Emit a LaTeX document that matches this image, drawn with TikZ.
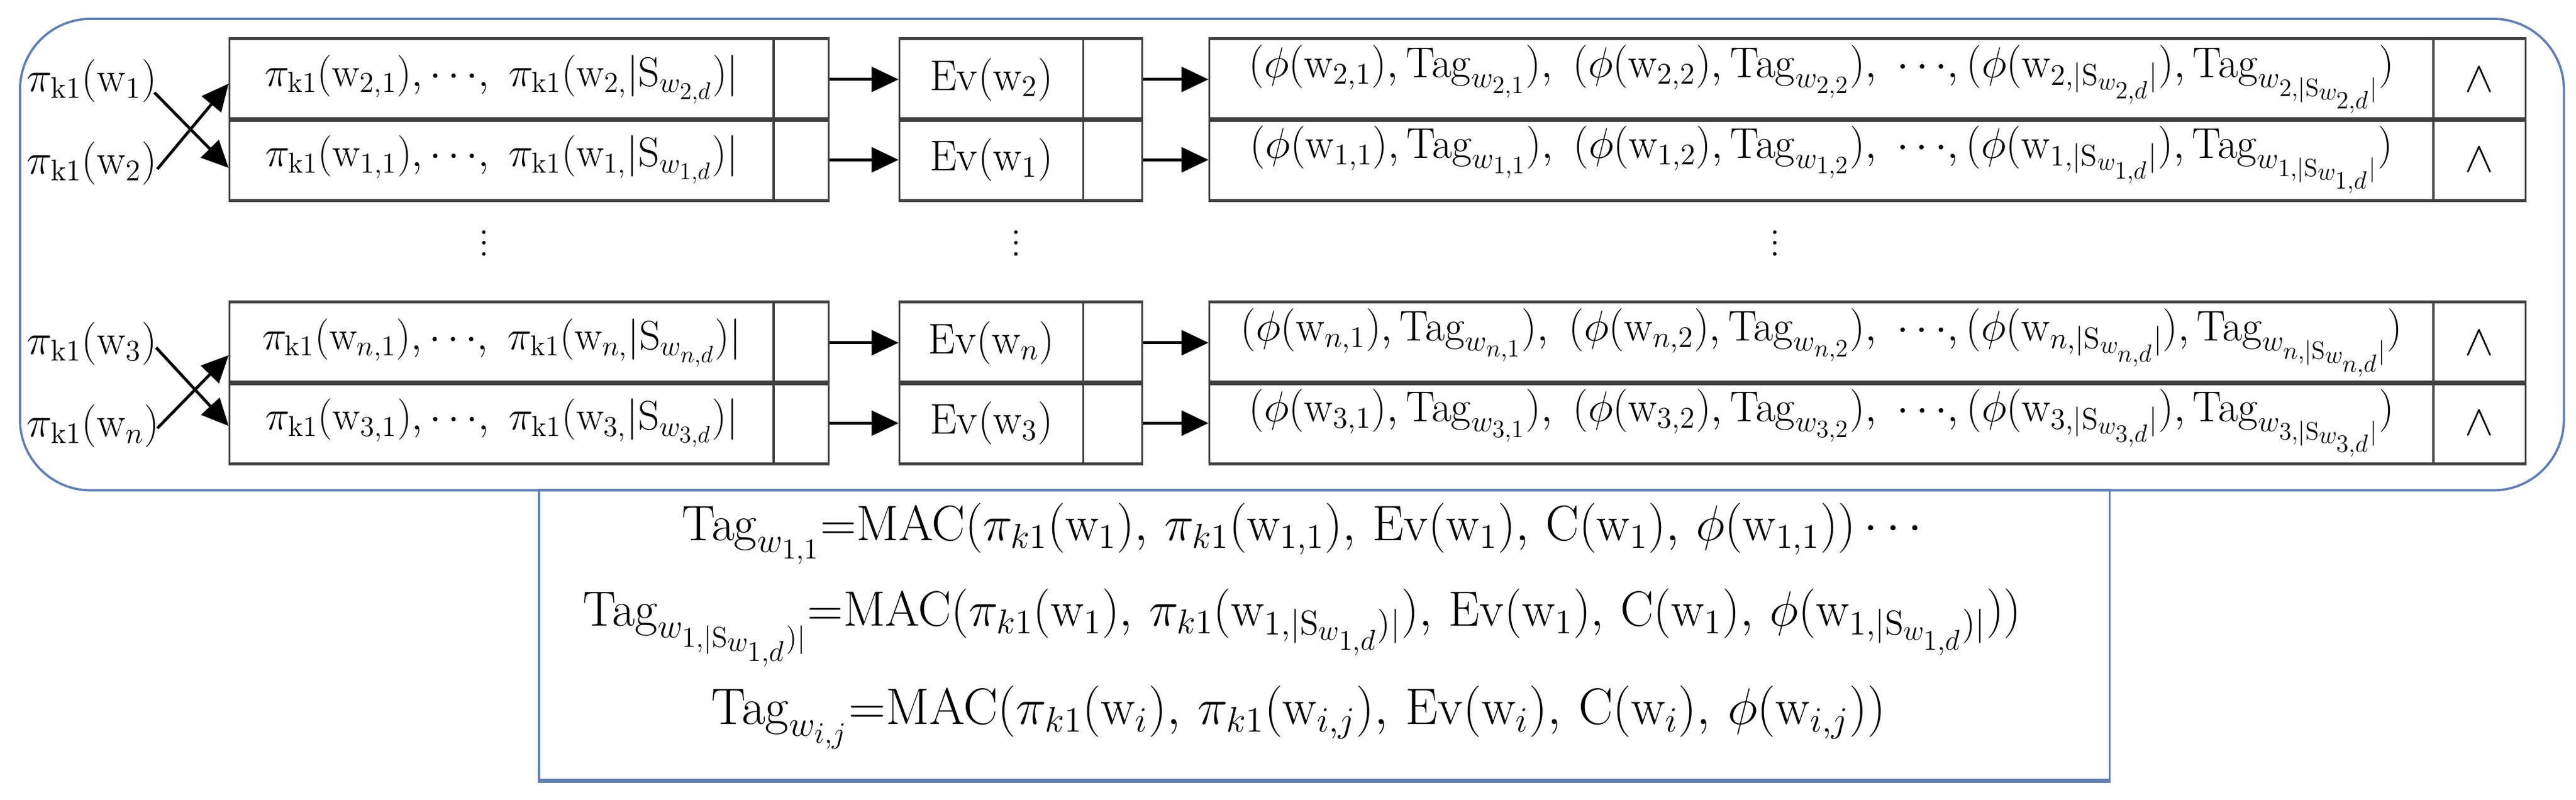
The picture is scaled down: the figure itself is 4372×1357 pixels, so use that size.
\documentclass[tikz,border=0pt]{standalone}
\usepackage{amsmath}
\usepackage{graphicx}
\usetikzlibrary{arrows.meta,calc}
\definecolor{frameblue}{HTML}{5F7FB6}
\definecolor{gridgray}{HTML}{404040}
\newcommand{\pk}{\pi_{\mathrm{k1}}}
\newcommand{\pki}{\pi_{k1}}
\newcommand{\rw}{\mathrm{w}}
\newcommand{\Tg}{\mathrm{Tag}}
\newcommand{\cA}[2]{\resizebox{#1}{!}{#2}\hspace{0.29cm}}
\newcommand{\cC}[2]{\raisebox{0.1cm}{\resizebox{#1}{!}{#2}}\hspace{0.4cm}}
\newcommand{\vdts}{\vbox{\baselineskip5.3pt \lineskiplimit0pt \hbox{.}\hbox{.}\hbox{.}}}
\begin{document}
\begin{tikzpicture}[x=0.01cm, y=-0.01cm,
  cell/.style={draw=gridgray, line width=0.85pt, rectangle, inner sep=0pt, anchor=north west,
    minimum height=1.365cm, font=\fontsize{20.74}{25}\selectfont},
  hline/.style={draw=gridgray, line width=1.3pt},
  lbl/.style={inner sep=0pt, font=\fontsize{20.74}{25}\selectfont},
  ftext/.style={inner sep=0pt, font=\fontsize{20.74}{25}\selectfont},
  arr/.style={-{Triangle[length=13pt,width=12pt]}, line width=1.4pt, black},
  frame/.style={draw=frameblue, line width=1.1pt, inner sep=0pt, anchor=north west}]
\useasboundingbox (0,0) rectangle (4372,1357);

% outer rounded frame
\node[frame, rounded corners=1.2cm, minimum width=43.15cm, minimum height=8cm] (outer) at (32,30) {};
% formula box
\node[frame, minimum width=26.64cm, minimum height=4.92cm] (formbox) at (913,830) {};
\draw[frameblue, line width=1.7pt] (formbox.south west) -- (formbox.south east);

% ---------- rows ----------
% #1 name, #2 top y, #3 col1 text, #4 Ev text, #5 col3 text, #6 col1 width, #7 col3 width
\newcommand{\tablerow}[7]{%
  \node[cell, minimum width=9.23cm] (p#1) at (388,#2) {\cA{#6}{#3}};
  \node[cell, minimum width=0.94cm] (q#1) at (1311,#2) {};
  \node[cell, minimum width=3.12cm] (e#1) at (1525,#2) {#4};
  \node[cell, minimum width=1cm] (f#1) at (1837,#2) {};
  \node[cell, minimum width=20.77cm] (t#1) at (2051,#2) {\cC{#7}{#5}};
  \node[cell, minimum width=1.57cm] (u#1) at (4128,#2) {$\wedge$};
  \draw[hline] (p#1.north west) -- (q#1.north east) (p#1.south west) -- (q#1.south east);
  \draw[hline] (e#1.north west) -- (f#1.north east) (e#1.south west) -- (f#1.south east);
  \draw[hline] (t#1.north west) -- (u#1.north east) (t#1.south west) -- (u#1.south east);
  \draw[arr] (q#1) -- (e#1);
  \draw[arr] (f#1) -- (t#1);
}
\tablerow{1}{65}{$\pk(\rw_{2,1}),{\cdots},\ \pk(\rw_{2,}|\mathrm{S}_{w_{2,d}})|$}{$\mathrm{Ev}(\rw_2)$}
  {$(\phi(\rw_{2,1}),\Tg_{w_{2,1}}),\ (\phi(\rw_{2,2}),\Tg_{w_{2,2}}),\ {\cdots},(\phi(\rw_{2,|\mathrm{S}_{w_{2,d}}|}),\Tg_{w_{2,|\mathrm{S}_{w_{2,d}}|}})$}{8.04cm}{19.43cm}
\tablerow{2}{201.5}{$\pk(\rw_{1,1}),{\cdots},\ \pk(\rw_{1,}|\mathrm{S}_{w_{1,d}})|$}{$\mathrm{Ev}(\rw_1)$}
  {$(\phi(\rw_{1,1}),\Tg_{w_{1,1}}),\ (\phi(\rw_{1,2}),\Tg_{w_{1,2}}),\ {\cdots},(\phi(\rw_{1,|\mathrm{S}_{w_{1,d}}|}),\Tg_{w_{1,|\mathrm{S}_{w_{1,d}}|}})$}{8.02cm}{19.38cm}
\tablerow{3}{512}{$\pk(\rw_{n,1}),{\cdots},\ \pk(\rw_{n,}|\mathrm{S}_{w_{n,d}})|$}{$\mathrm{Ev}(\rw_n)$}
  {$(\phi(\rw_{n,1}),\Tg_{w_{n,1}}),\ (\phi(\rw_{n,2}),\Tg_{w_{n,2}}),\ {\cdots},(\phi(\rw_{n,|\mathrm{S}_{w_{n,d}}|}),\Tg_{w_{n,|\mathrm{S}_{w_{n,d}}|}})$}{8.12cm}{19.71cm}
\tablerow{4}{648.5}{$\pk(\rw_{3,1}),{\cdots},\ \pk(\rw_{3,}|\mathrm{S}_{w_{3,d}})|$}{$\mathrm{Ev}(\rw_3)$}
  {$(\phi(\rw_{3,1}),\Tg_{w_{3,1}}),\ (\phi(\rw_{3,2}),\Tg_{w_{3,2}}),\ {\cdots},(\phi(\rw_{3,|\mathrm{S}_{w_{3,d}}|}),\Tg_{w_{3,|\mathrm{S}_{w_{3,d}}|}})$}{8.02cm}{19.43cm}

% ---------- left labels and crossing arrows ----------
\node[lbl, anchor=west] (L1) at (45,137) {$\pk(\rw_1)$};
\node[lbl, anchor=west] (L2) at (45,277) {$\pk(\rw_2)$};
\node[lbl, anchor=west] (L3) at (45,583) {$\pk(\rw_3)$};
\node[lbl, anchor=west] (L4) at (45,723) {$\pk(\rw_n)$};
\coordinate (s1) at (262,157);
\coordinate (s2) at (267,287);
\coordinate (s3) at (265,590);
\coordinate (s4) at (267,727);
\coordinate (h1) at (388,142);
\coordinate (h2) at (388,285);
\coordinate (h3) at (388,603);
\coordinate (h4) at (388,723);
\draw[arr] (s1) -- (h2);
\draw[arr] (s2) -- (h1);
\draw[arr] (s3) -- (h4);
\draw[arr] (s4) -- (h3);

% ---------- vertical dots ----------
\node[lbl] (d1) at (822,413) {\vdts};
\node[lbl] (d2) at (1725,413) {\vdts};
\node[lbl] (d3) at (3013,413) {\vdts};

% ---------- formulas ----------
\node[ftext] (f1) at (2217,906) {\resizebox{21.18cm}{!}{$\Tg_{w_{1,1}}{=}\mathrm{MAC}(\pki(\rw_1),\,\pki(\rw_{1,1}),\,\mathrm{Ev}(\rw_1),\,\mathrm{C}(\rw_1),\,\phi(\rw_{1,1}))\cdots$}};
\node[ftext] (f2) at (2210,1066) {\resizebox{24.4cm}{!}{$\Tg_{w_{1,|\mathrm{S}_{w_{1,d}})|}}{=}\mathrm{MAC}(\pki(\rw_1),\,\pki(\rw_{1,|\mathrm{S}_{w_{1,d}})|}),\,\mathrm{Ev}(\rw_1),\,\mathrm{C}(\rw_1),\,\phi(\rw_{1,|\mathrm{S}_{w_{1,d}})|}))$}};
\node[ftext] (f3) at (2204,1218) {\resizebox{19.92cm}{!}{$\Tg_{w_{i,j}}{=}\mathrm{MAC}(\pki(\rw_i),\,\pki(\rw_{i,j}),\,\mathrm{Ev}(\rw_i),\,\mathrm{C}(\rw_i),\,\phi(\rw_{i,j}))$}};
\end{tikzpicture}
\end{document}
